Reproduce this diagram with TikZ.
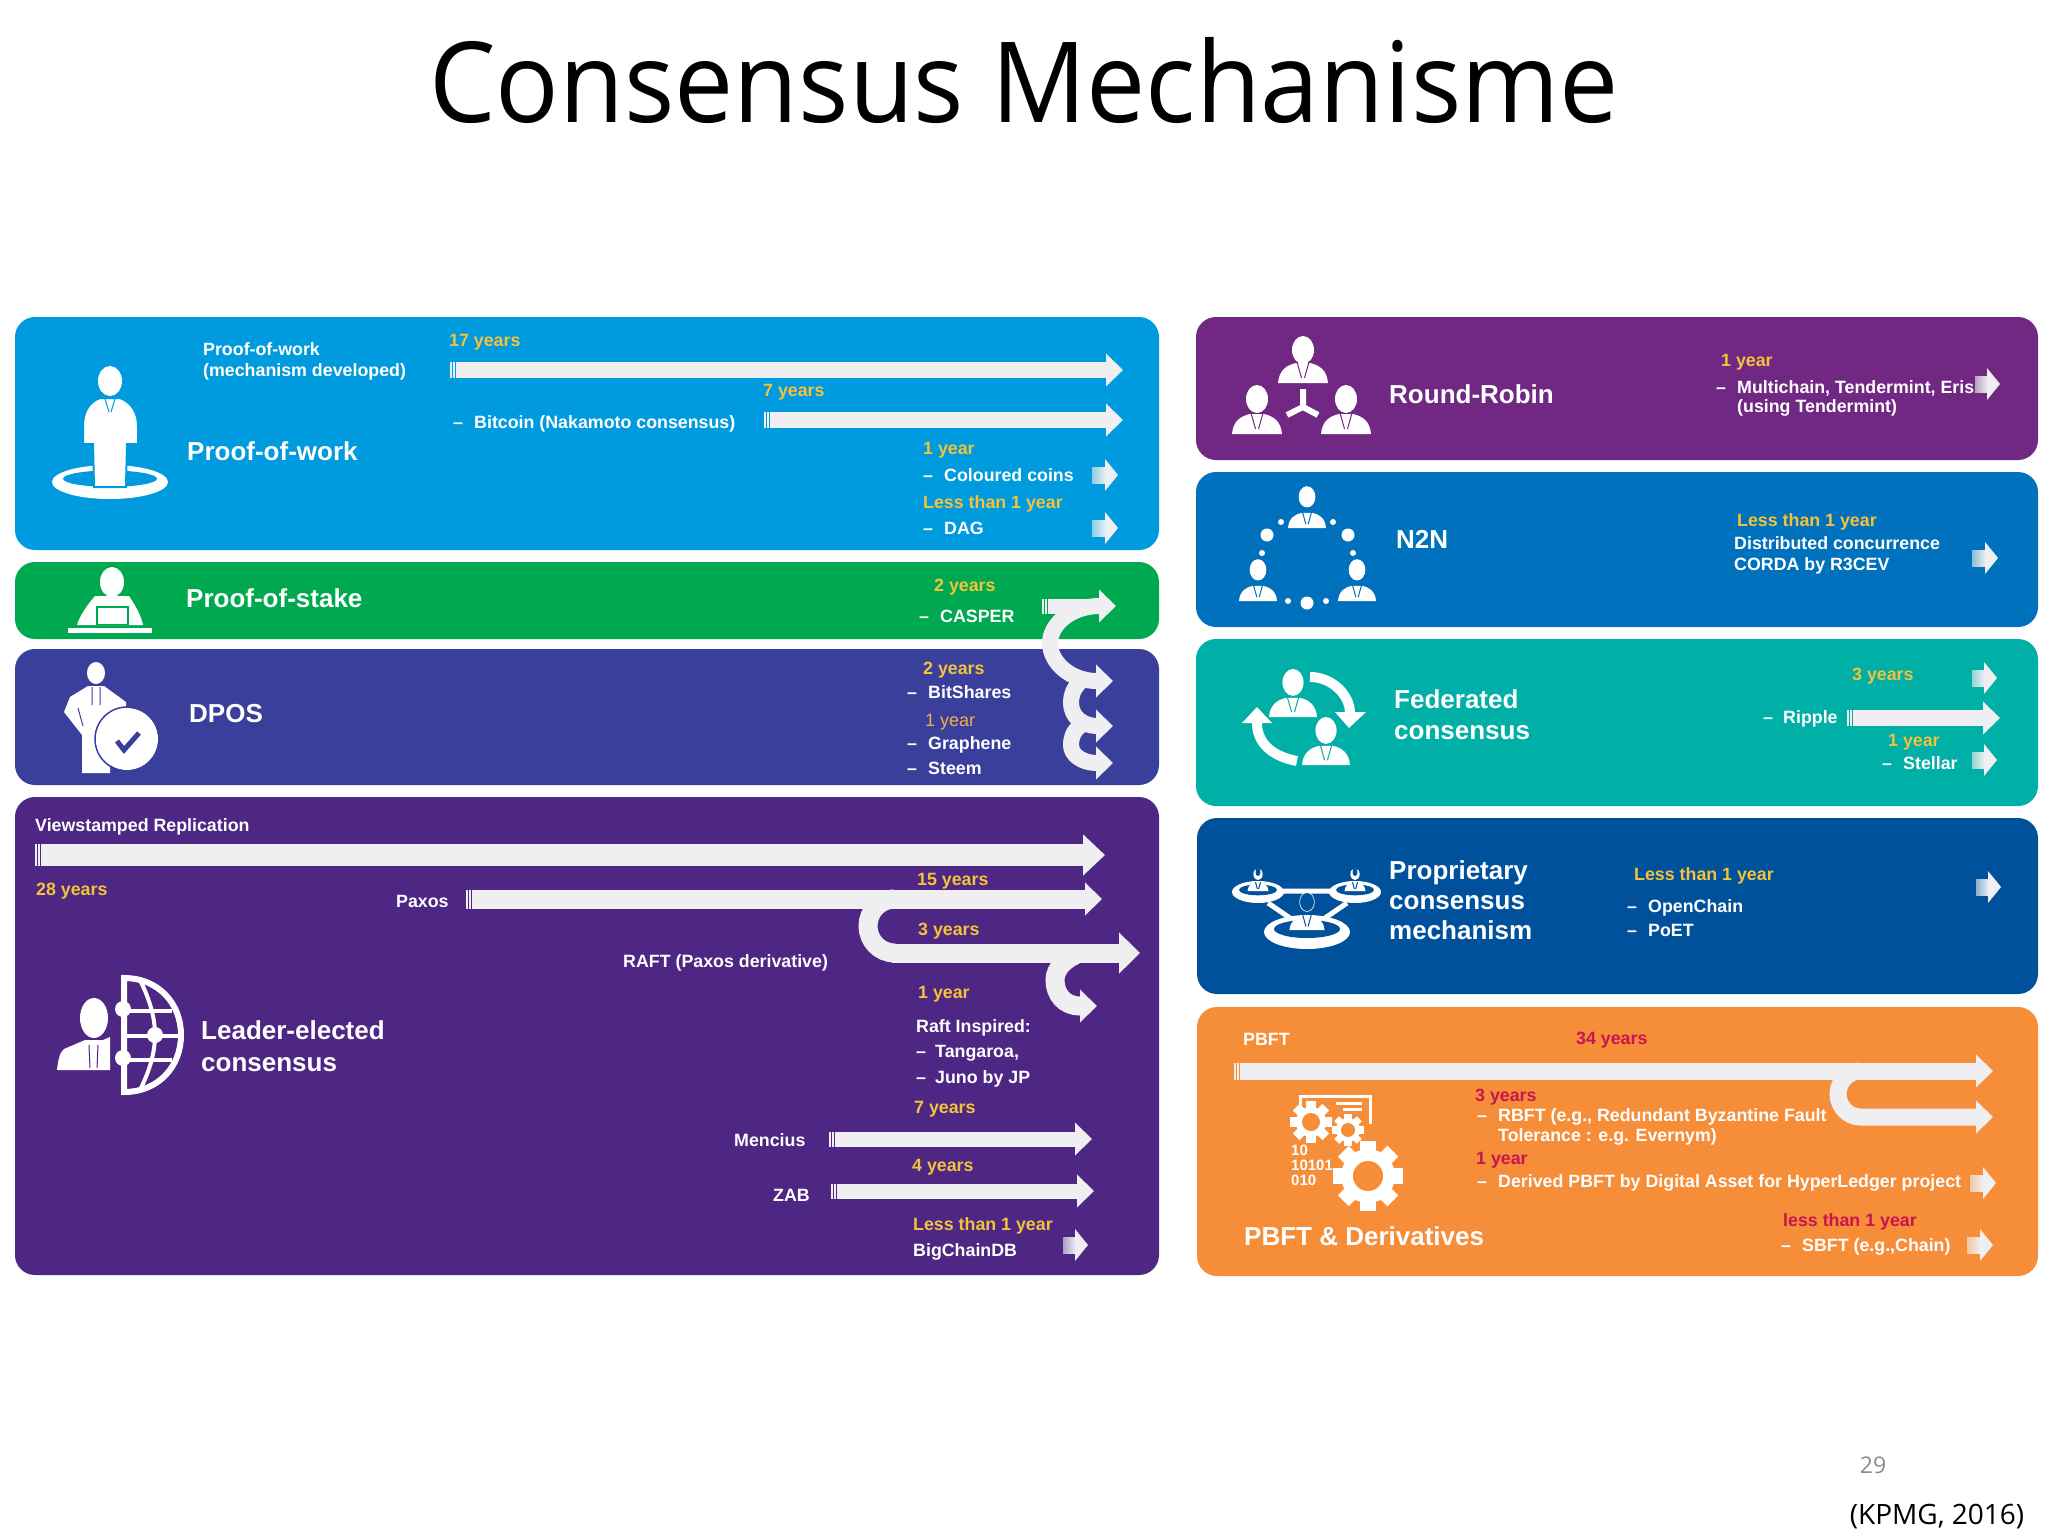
\documentclass[tikz,border=0pt]{standalone}
\usepackage{fontspec}
\setmainfont{Liberation Sans}
\newfontfamily\titlefont{Open Sans}
\usetikzlibrary{arrows.meta}
\definecolor{cpow}{HTML}{009ADE}
\definecolor{cpos}{HTML}{00A94F}
\definecolor{cdpos}{HTML}{3A3F9B}
\definecolor{clead}{HTML}{4E2683}
\definecolor{crr}{HTML}{702882}
\definecolor{cnn}{HTML}{0071BC}
\definecolor{cfed}{HTML}{00AFA5}
\definecolor{cprop}{HTML}{00519B}
\definecolor{cpbft}{HTML}{F68D39}
\definecolor{arw}{HTML}{EFEFF1}
\definecolor{yel}{HTML}{F3C33B}
\definecolor{ora}{HTML}{F0B048}
\definecolor{red1}{HTML}{C9144F}
\tikzset{
  lbl/.style={anchor=base west,inner sep=0pt,yshift=-6pt,text=white,font=\fontsize{17.8}{20}\selectfont\bfseries},
  yr/.style={lbl,text=yel},
  rd/.style={lbl,text=red1},
  hd/.style={anchor=base west,inner sep=0pt,yshift=-9pt,text=white,font=\fontsize{26}{30}\selectfont\bfseries},
  flow/.style={draw=arw,line width=#1,-{Triangle[length=17pt,width=32pt,fill=arw]}},
  flow/.default=16pt,
  wl/.style={draw=white,line cap=butt}
}
\newcounter{tn}
\newcommand{\tx}[4][lbl]{\stepcounter{tn}\node[#1] (t\arabic{tn}) at (#2,#3) {#4};}
% long arrow with striped start: name,x1,x2,y,thickness,panel colour
\newcommand{\lflow}[6]{%
  \coordinate (#1s) at (#2,#4);\coordinate (#1e) at (#3,#4);
  \draw[flow=#5] (#1s) -- (#1e);
  \draw[#6,line width=.8pt] ([xshift=2pt]#1s) ++(0,-#5/2) -- ++(0,#5);
  \draw[#6,line width=.8pt] ([xshift=5pt]#1s) ++(0,-#5/2) -- ++(0,#5);}
% short fading arrow: x1,x2,y,panel colour
\newcommand{\sarrow}[4]{%
  \shade[left color=#4!40!arw,right color=arw] (#1,#3-8) rectangle (#2-12,#3+8);
  \fill[arw] (#2-13,#3-16) -- (#2,#3) -- (#2-13,#3+16) -- cycle;}
% bust: x,y of base centre,scale,panel colour,head distance
\newcommand{\bust}[5]{%
  \begin{scope}[shift={(#1,#2)},scale=#3]
  \fill[white] (0,-#5) ellipse[x radius=11,y radius=14];
  \fill[white] (-25,0) .. controls (-24,-13) and (-16,-18) .. (-7,-20) -- (7,-20) .. controls (16,-18) and (24,-13) .. (25,0) -- cycle;
  \draw[#4,line width=1pt] (-6,-21) -- (-1.5,-5) (6,-21) -- (1.5,-5);
  \end{scope}}
% ring: x,y,rx,ry,thickness,panel colour
\newcommand{\ring}[6]{%
  \fill[white] (#1,#2) ellipse[x radius=#3,y radius=#4];
  \fill[#6] (#1,#2-#5*.3) ellipse[x radius=#3-#5,y radius=#4-#5*.8];}
% gear: x,y,outer,body,hole,panel colour
\newcommand{\gear}[6]{%
  \fill[white] (#1,#2) circle[radius=#4];
  \foreach \a in {0,45,...,315}{\fill[white,rotate around={\a:(#1,#2)}] (#1-#3*.22,#2-#3) rectangle (#1+#3*.22,#2-#4+1);}
  \fill[#6] (#1,#2) circle[radius=#5];}
\begin{document}
\begin{tikzpicture}[x=1pt,y=-1pt]
\useasboundingbox (0,0) rectangle (2048,1536);
\fill[white] (0,0) rectangle (2048,1536);
% panels
\fill[cpow,rounded corners=20pt] (15,317) rectangle (1159,550);
\fill[cpos,rounded corners=20pt] (15,562) rectangle (1159,639);
\fill[cdpos,rounded corners=20pt] (15,649) rectangle (1159,785);
\fill[clead,rounded corners=20pt] (15,797) rectangle (1159,1275);
\fill[crr,rounded corners=20pt] (1196,317) rectangle (2038,460);
\fill[cnn,rounded corners=20pt] (1196,472) rectangle (2038,627);
\fill[cfed,rounded corners=20pt] (1196,639) rectangle (2038,806);
\fill[cprop,rounded corners=20pt] (1197,818) rectangle (2038,994);
\fill[cpbft,rounded corners=20pt] (1197,1007) rectangle (2038,1276);
% title and footer
\node[inner sep=0pt,xscale=.942,font=\fontsize{112}{120}\selectfont\titlefont] (title) at (1024,81) {Consensus Mechanisme};
\node[inner sep=0pt,text=black!45,font=\fontsize{23}{26}\selectfont\titlefont] (page) at (1873,1465) {29};
\node[inner sep=0pt,font=\fontsize{28}{30}\selectfont\titlefont] (kpmg) at (1937,1517) {(KPMG, 2016)};
% Proof-of-work
\ring{110}{482}{58}{17}{11}{cpow}
\filldraw[fill=white,draw=cpow,line width=2pt] (100,398) -- (120,398) .. controls (131,402) and (138,412) .. (138,426) -- (138,444) -- (127,444) -- (126,487) -- (94,487) -- (93,444) -- (83,444) -- (83,426) .. controls (83,412) and (89,402) .. (100,398) -- cycle;
\fill[white] (110,381) ellipse[x radius=12,y radius=15];
\draw[cpow,line width=1pt] (105,399) -- (109,412) (115,399) -- (111,412);
\tx{203}{349}{Proof-of-work}
\tx{203}{370}{(mechanism developed)}
\tx[yr]{449}{340}{17 years}
\lflow{a}{450}{1123}{370}{16pt}{cpow}
\tx[yr]{763}{390}{7 years}
\tx{453}{422}{–}\tx{474}{422}{Bitcoin (Nakamoto consensus)}
\lflow{b}{764}{1123}{420}{16pt}{cpow}
\tx[hd]{187}{451}{Proof-of-work}
\tx[yr]{923}{448}{1 year}
\tx{923}{475}{–}\tx{944}{475}{Coloured coins}
\sarrow{1092}{1118}{475}{cpow}
\tx[yr]{923}{502}{Less than 1 year}
\tx{923}{528}{–}\tx{944}{528}{DAG}
\sarrow{1092}{1118}{528}{cpow}
% Proof-of-stake
\fill[white] (112,582) ellipse[x radius=12,y radius=15];
\fill[white] (95,596) -- (129,596) .. controls (135,605) and (141,615) .. (143,625) -- (77,625) .. controls (80,615) and (88,604) .. (95,596) -- cycle;
\fill[cpos] (96,606) rectangle (129,625);
\fill[white] (98,608) rectangle (127,624);
\fill[white] (68,628) rectangle (152,633);
\tx[hd]{186}{598}{Proof-of-stake}
\tx[yr]{934}{585}{2 years}
\tx{919}{616}{–}\tx{940}{616}{CASPER}
% DPOS
\fill[white] (96,673) ellipse[x radius=9,y radius=11];
\fill[white] (88,686) -- (104,686) -- (126,702) -- (126,716) -- (110,740) -- (110,773) -- (82,773) -- (82,735) -- (64,712) -- (70,697) -- cycle;
\draw[cdpos,line width=1pt] (92,687) -- (92,705) (100,687) -- (100,705) (78,708) -- (83,726);
\fill[white] (127,739) circle[radius=31];
\draw[cdpos,line width=1.5pt] (127,739) circle[radius=32];
\draw[cdpos,line width=5pt] (117,741) -- (124,750) -- (139,733);
\tx[hd]{189}{713}{DPOS}
\tx[yr]{923}{668}{2 years}
\tx{907}{692}{–}\tx{928}{692}{BitShares}
\tx[lbl,text=ora,font=\fontsize{18}{20}\selectfont]{925}{720}{1 year}
\tx{907}{743}{–}\tx{928}{743}{Graphene}
\tx{907}{768}{–}\tx{928}{768}{Steem}
% PoS / DPOS arrows
\coordinate (c1s) at (1042,606);\coordinate (c1e) at (1116,606);
\draw[flow=15pt] (c1s) -- (c1e);
\draw[cpos,line width=.8pt] (1044,598) -- (1044,614) (1047,598) -- (1047,614);
\coordinate (c2s) at (1100,606);\coordinate (c2e) at (1113,681);
\draw[flow=16pt] (c2s) .. controls (1070,606) and (1050,625) .. (1050,643) .. controls (1050,662) and (1070,681) .. (1097,681) -- (c2e);
\coordinate (c3s) at (1080,682);\coordinate (c3e) at (1113,726);
\draw[flow=16pt] (c3s) .. controls (1072,690) and (1071,697) .. (1071,703) .. controls (1071,716) and (1082,726) .. (1097,726) -- (c3e);
\coordinate (c4s) at (1080,726);\coordinate (c4e) at (1113,763);
\draw[flow=16pt] (c4s) .. controls (1072,732) and (1071,740) .. (1071,745) .. controls (1071,755) and (1082,763) .. (1097,763) -- (c4e);
% Leader-elected
\tx{35}{825}{Viewstamped Replication}
\draw[draw=arw,line width=22pt,-{Triangle[length=22pt,width=40pt,fill=arw]}] (35,855) coordinate (d1s) -- (1105,855) coordinate (d1e);
\draw[clead,line width=.8pt] (37,844) -- (37,866) (40,844) -- (40,866);
\tx[yr]{36}{889}{28 years}
\tx{396}{901}{Paxos}
\tx[yr]{917}{879}{15 years}
\coordinate (d3s) at (892,953);\coordinate (d3e) at (1140,953);
\coordinate (d4s) at (1080,953);\coordinate (d4e) at (1097,1006);
\draw[flow=19pt] (d4s) .. controls (1066,958) and (1055,968) .. (1055,980) .. controls (1055,994) and (1064,1006) .. (1080,1006) -- (d4e);
\coordinate (d5s) at (895,899);\coordinate (d5e) at (895,953);
\draw[draw=arw,line width=19pt] (d5s) .. controls (879,899) and (868,912) .. (868,926) .. controls (868,940) and (879,953) .. (d5e);
\draw[draw=arw,line width=19pt,-{Triangle[length=21pt,width=40pt,fill=arw]}] (d3s) -- (d3e);
\lflow{d2}{466}{1102}{899}{19pt}{clead}
\tx[yr]{918}{929}{3 years}
\tx{623}{961}{RAFT (Paxos derivative)}
\tx[yr]{918}{992}{1 year}
\tx{916}{1026}{Raft Inspired:}
\tx{916}{1051}{–}\tx{935}{1051}{Tangaroa,}
\tx{916}{1077}{–}\tx{935}{1077}{Juno by JP}
\tx[yr]{914}{1107}{7 years}
\tx{734}{1140}{Mencius}
\lflow{d6}{829}{1092}{1139}{15pt}{clead}
\tx[yr]{912}{1165}{4 years}
\tx{773}{1195}{ZAB}
\lflow{d7}{831}{1094}{1191}{15pt}{clead}
\tx[yr]{913}{1224}{Less than 1 year}
\tx{913}{1250}{BigChainDB}
\sarrow{1063}{1088}{1245}{clead}
% leader icon
\fill[white] (94,1018) ellipse[x radius=14,y radius=20];
\fill[white] (57,1070) .. controls (58,1060) and (60,1052) .. (64,1049) -- (85,1040) -- (103,1040) -- (110,1037) -- (110,1070) -- cycle;
\draw[clead,line width=1pt] (89,1045) -- (90,1068) (98,1045) -- (97,1068);
\draw[white,line width=6pt] (124,978) .. controls (158,978) and (181,1003) .. (181,1035) .. controls (181,1067) and (158,1092) .. (124,1092) -- cycle;
\draw[white,line width=4pt] (124,1011) -- (172,1011) (124,1036) -- (179,1036) (124,1060) -- (172,1060);
\draw[white,line width=4pt] (140,980) .. controls (150,1000) and (155,1018) .. (155,1035) .. controls (155,1052) and (150,1070) .. (140,1090);
\fill[white] (123,1009) circle[radius=8] (155,1035) circle[radius=8] (123,1058) circle[radius=8];
\tx[hd]{201}{1030}{Leader-elected}
\tx[hd]{201}{1062}{consensus}
% Round-Robin
\bust{1303}{383}{1}{crr}{33}
\bust{1257}{434}{1}{crr}{35}
\bust{1346}{434}{1}{crr}{35}
\draw[white,line width=6pt] (1303,389) -- (1303,407) (1287,415) -- (1303,407) -- (1318,415);
\tx[hd]{1389}{394}{Round-Robin}
\tx[yr]{1721}{360}{1 year}
\tx{1716}{387}{–}\tx{1737}{387}{Multichain, Tendermint, Eris}
\tx{1737}{406}{(using Tendermint)}
\sarrow{1975}{2000}{384}{crr}
% N2N
\bust{1307}{528}{.76}{cnn}{41}
\bust{1258}{601}{.76}{cnn}{41}
\bust{1357}{601}{.76}{cnn}{41}
\fill[white] (1281,522) circle[radius=3] (1333,522) circle[radius=3] (1267,535) circle[radius=6.5] (1348,535) circle[radius=6.5] (1262,553) circle[radius=3] (1353,553) circle[radius=3] (1288,601) circle[radius=3] (1307,603) circle[radius=6.5] (1326,601) circle[radius=3];
\tx[hd]{1396}{539}{N2N}
\tx[yr]{1737}{520}{Less than 1 year}
\tx{1734}{543}{Distributed concurrence}
\tx{1734}{564}{CORDA by R3CEV}
\sarrow{1972}{1998}{558}{cnn}
% Federated
\bust{1293}{717}{.96}{cfed}{36}
\bust{1326}{765}{.96}{cfed}{36}
\draw[white,line width=10pt] (1310,677) .. controls (1332,677) and (1350,695) .. (1350,713);
\fill[white] (1335,712) -- (1366,712) -- (1349,728) -- cycle;
\draw[white,line width=10pt] (1297,761) .. controls (1275,757) and (1257,745) .. (1257,723);
\fill[white] (1242,723) -- (1272,723) -- (1257,707) -- cycle;
\tx[hd]{1394}{699}{Federated}
\tx[hd]{1394}{730}{consensus}
\tx[yr]{1852}{674}{3 years}
\sarrow{1972}{1997}{678}{cfed}
\tx{1763}{717}{–}\tx{1783}{717}{Ripple}
\lflow{e1}{1847}{2000}{718}{16pt}{cfed}
\tx[yr]{1888}{740}{1 year}
\tx{1882}{763}{–}\tx{1903}{763}{Stellar}
\sarrow{1972}{1997}{760}{cfed}
% Proprietary
\draw[white,line width=5pt] (1283,891) -- (1332,891) (1268,903) -- (1290,918) (1347,903) -- (1325,918);
\ring{1258}{892}{26}{11}{7}{cprop}
\ring{1355}{892}{26}{11}{7}{cprop}
\ring{1307}{932}{43}{17}{10}{cprop}
\bust{1258}{891}{.42}{cprop}{40}
\bust{1355}{891}{.42}{cprop}{40}
\bust{1307}{930}{.7}{cprop}{40}
\fill[cprop] (1307,902) ellipse[x radius=7,y radius=9];
\fill[cprop] (1258,872) ellipse[x radius=2.5,y radius=4];
\fill[cprop] (1355,872) ellipse[x radius=2.5,y radius=4];
\tx[hd]{1389}{870}{Proprietary}
\tx[hd]{1389}{900}{consensus}
\tx[hd]{1389}{930}{mechanism}
\tx[yr]{1634}{874}{Less than 1 year}
\tx{1627}{906}{–}\tx{1648}{906}{OpenChain}
\tx{1627}{930}{–}\tx{1648}{930}{PoET}
\sarrow{1976}{2001}{887}{cprop}
% PBFT
\tx{1243}{1039}{PBFT}
\tx[rd]{1576}{1038}{34 years}
\coordinate (f2s) at (1860,1071);\coordinate (f2e) at (1993,1117);
\draw[flow=17pt] (f2s) .. controls (1848,1071) and (1838,1082) .. (1838,1094) .. controls (1838,1106) and (1848,1117) .. (1860,1117) -- (f2e);
\lflow{f1}{1234}{1993}{1071}{17pt}{cpbft}
\tx[rd]{1475}{1095}{3 years}
\tx{1477}{1115}{–}\tx{1498}{1115}{RBFT (e.g., Redundant Byzantine Fault}
\tx{1498}{1135}{Tolerance : e.g. Evernym)}
\tx[rd]{1476}{1158}{1 year}
\tx{1477}{1181}{–}\tx{1498}{1181}{Derived PBFT by Digital Asset for HyperLedger project}
\sarrow{1970}{1996}{1183}{cpbft}
\tx[rd]{1783}{1220}{less than 1 year}
\tx{1781}{1245}{–}\tx{1802}{1245}{SBFT (e.g.,Chain)}
\sarrow{1967}{1993}{1245}{cpbft}
\tx[hd]{1244}{1236}{PBFT \& Derivatives}
% gears
\draw[white,line width=3pt] (1300,1108) -- (1300,1096) -- (1370,1096) -- (1370,1124);
\draw[white,line width=3pt] (1336,1103) -- (1362,1103) (1343,1109) -- (1362,1109);
\gear{1311}{1122}{21}{15}{9}{cpbft}
\gear{1348}{1130}{16}{12}{7}{cpbft}
\gear{1368}{1176}{35}{27}{15}{cpbft}
\tx[lbl,font=\fontsize{15}{16}\selectfont\bfseries,yshift=.5pt]{1291}{1150}{10}
\tx[lbl,font=\fontsize{15}{16}\selectfont\bfseries,yshift=.5pt]{1291}{1165}{10101}
\tx[lbl,font=\fontsize{15}{16}\selectfont\bfseries,yshift=.5pt]{1291}{1180}{010}
\end{tikzpicture}
\end{document}
